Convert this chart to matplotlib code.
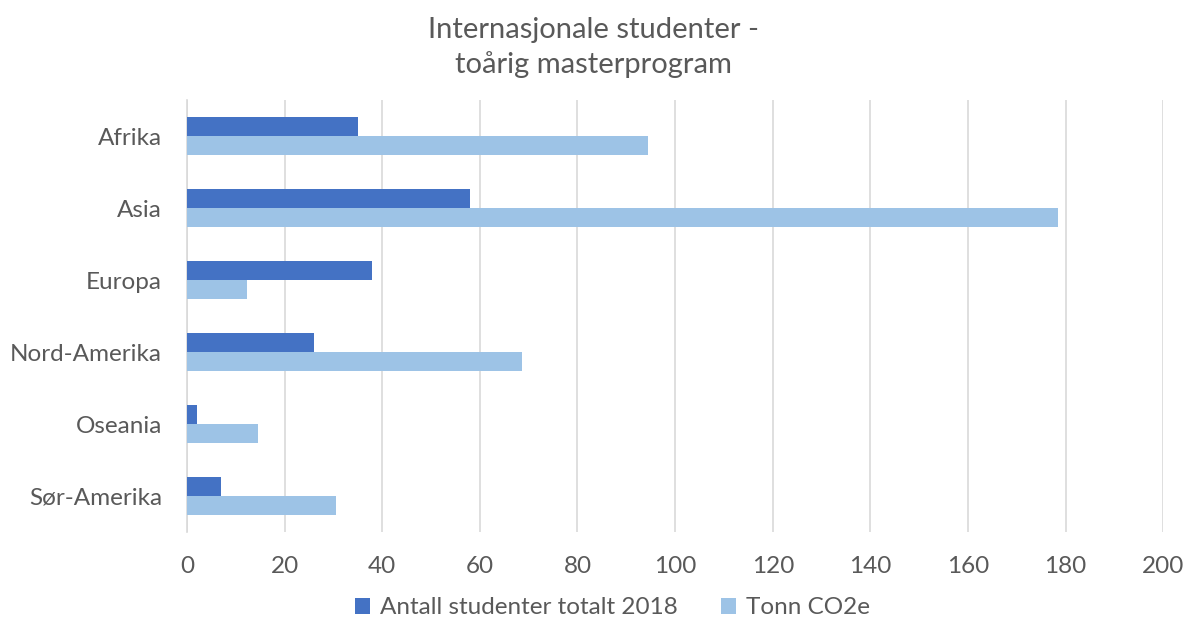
import matplotlib.pyplot as plt
import numpy as np

plt.rcParams['font.family'] = ['Lato', 'DejaVu Sans']

regioner = ['Afrika', 'Asia', 'Europa', 'Nord-Amerika', 'Oseania', 'Sør-Amerika']
studenter = [35, 58, 38, 26, 2, 7]
tonn_co2e = [94.5, 178.5, 12.4, 68.7, 14.5, 30.5]

grå = '#595959'
y = np.arange(len(regioner))
h = 0.26

fig = plt.figure(figsize=(11.87, 6.18), dpi=100)
ax = fig.add_axes([0.1575, 0.139, 0.8225, 0.699])

ax.barh(y - h / 2, studenter, height=h, color='#4472C4', label='Antall studenter totalt 2018', zorder=3)
ax.barh(y + h / 2, tonn_co2e, height=h, color='#9DC3E6', label='Tonn CO2e', zorder=3)

ax.set_ylim(len(regioner) - 0.5, -0.5)
ax.set_yticks(y)
ax.set_yticklabels(regioner)
ax.set_xlim(0, 200)
ax.set_xticks(np.arange(0, 201, 20))
ax.grid(axis='x', color='#D9D9D9', linewidth=1.2, zorder=0)
ax.tick_params(axis='both', length=0, labelsize=17.5, colors=grå)
ax.tick_params(axis='y', pad=18)
ax.tick_params(axis='x', pad=17)

for side in ['top', 'right', 'bottom']:
    ax.spines[side].set_visible(False)
ax.spines['left'].set_color('#D9D9D9')
ax.spines['left'].set_linewidth(1.2)

fig.suptitle('Internasjonale studenter -\ntoårig masterprogram', y=0.972,
             fontsize=21, color=grå, linespacing=1.35)

fig.legend(loc='lower center', bbox_to_anchor=(0.516, -0.036), ncol=2, frameon=False,
           fontsize=17.5, labelcolor=grå, handlelength=0.6, handleheight=0.6,
           handletextpad=0.4, columnspacing=1.8)

fig.savefig('out.png')
